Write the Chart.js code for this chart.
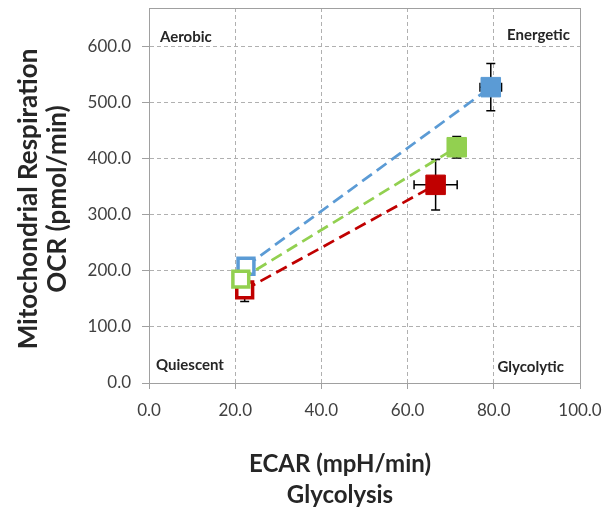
<!DOCTYPE html>
<html>
<head>
<meta charset="utf-8">
<script src="https://cdn.jsdelivr.net/npm/chart.js@4.4.1/dist/chart.umd.min.js"></script>
<style>
  html, body { margin: 0; padding: 0; background: #fff; }
</style>
</head>
<body>
<canvas id="chart" width="605" height="513"></canvas>
<script>
// three conditions: blue, green, red
const seriesNames = ['Series 1', 'Series 2', 'Series 3'];
const ecarBasal = [22.5, 21.3, 22.2];
const ocrBasal = [208, 185, 166];
const ecarStressed = [79.3, 71.4, 66.5];
const ocrStressed = [527, 420, 353];
const ecarErrBasal = [0, 0, 0];
const ocrErrBasal = [0, 0, 21];
const ecarErrStressed = [2.5, 1.5, 5.0];
const ocrErrStressed = [42, 19, 45];

const xTicks = [0, 20, 40, 60, 80, 100];
const yTicks = [0, 100, 200, 300, 400, 500, 600];
const quadrantLabels = ['Aerobic', 'Energetic', 'Quiescent', 'Glycolytic'];

const colors = ['#5B9BD5', '#92D050', '#C00000'];
const drawOrder = [1, 0, 2]; // green sits on top
const gridColor = '#B0B0B0';
const frameColor = '#A0A0A0';
const textColor = '#262626';
const tickColor = '#404040';
const FONT = 'Lato, "Open Sans", sans-serif';

const datasets = seriesNames.map((name, i) => ({
  label: name,
  data: [
    { x: ecarBasal[i], y: ocrBasal[i], xErr: ecarErrBasal[i], yErr: ocrErrBasal[i] },
    { x: ecarStressed[i], y: ocrStressed[i], xErr: ecarErrStressed[i], yErr: ocrErrStressed[i] }
  ],
  showLine: true,
  order: drawOrder[i],
  borderColor: colors[i],
  borderWidth: 2.75,
  borderDash: [12, 6],
  pointStyle: 'rect',
  pointRadius: [11.2, 13.8],
  pointBorderWidth: [3.5, 1],
  pointBorderColor: colors[i],
  pointBackgroundColor: ['#FFFFFF', colors[i]]
}));

const errorBars = {
  id: 'errorBars',
  beforeDatasetsDraw(chart) {
    const { ctx, scales: { x, y } } = chart;
    ctx.save();
    ctx.strokeStyle = '#000';
    ctx.lineWidth = 1.5;
    const cap = 4.5;
    chart.data.datasets.forEach(ds => {
      ds.data.forEach(p => {
        const px = x.getPixelForValue(p.x);
        const py = y.getPixelForValue(p.y);
        ctx.beginPath();
        if (p.yErr) {
          const y1 = y.getPixelForValue(p.y + p.yErr);
          const y2 = y.getPixelForValue(p.y - p.yErr);
          ctx.moveTo(px, y1); ctx.lineTo(px, y2);
          ctx.moveTo(px - cap, y1); ctx.lineTo(px + cap, y1);
          ctx.moveTo(px - cap, y2); ctx.lineTo(px + cap, y2);
        }
        if (p.xErr) {
          const x1 = x.getPixelForValue(p.x - p.xErr);
          const x2 = x.getPixelForValue(p.x + p.xErr);
          ctx.moveTo(x1, py); ctx.lineTo(x2, py);
          ctx.moveTo(x1, py - cap); ctx.lineTo(x1, py + cap);
          ctx.moveTo(x2, py - cap); ctx.lineTo(x2, py + cap);
        }
        ctx.stroke();
      });
    });
    ctx.restore();
  }
};

const frameAndText = {
  id: 'frameAndText',
  beforeDatasetsDraw(chart) {
    const { ctx, chartArea: a } = chart;
    ctx.save();
    ctx.strokeStyle = frameColor;
    ctx.lineWidth = 1;
    ctx.strokeRect(Math.round(a.left) + 0.5, Math.round(a.top) + 0.5,
      Math.round(a.right - a.left), Math.round(a.bottom - a.top));
    ctx.restore();
  },
  afterDraw(chart) {
    const { ctx, chartArea: a } = chart;
    ctx.save();
    ctx.fillStyle = textColor;

    // quadrant labels
    ctx.font = 'bold 15px ' + FONT;
    ctx.textBaseline = 'alphabetic';
    ctx.textAlign = 'left';
    ctx.fillText(quadrantLabels[0], a.left + 11, 41.5);
    ctx.fillText(quadrantLabels[2], a.left + 7, 369.5);
    ctx.textAlign = 'right';
    ctx.fillText(quadrantLabels[1], a.right - 10, 39.5);
    ctx.fillText(quadrantLabels[3], a.right - 16, 371.5);

    // axis titles
    ctx.font = 'bold 24px ' + FONT;
    ctx.textAlign = 'center';
    ctx.textBaseline = 'middle';
    ctx.fillText('ECAR (mpH/min)', 340, 464);
    ctx.fillText('Glycolysis', 340, 495);

    ctx.font = 'bold 26px ' + FONT;
    ctx.translate(0, 199);
    ctx.rotate(-Math.PI / 2);
    ctx.fillText('Mitochondrial Respiration', 0, 29);
    ctx.fillText('OCR (pmol/min)', 0, 58);
    ctx.restore();
  }
};

new Chart(document.getElementById('chart'), {
  type: 'scatter',
  data: { datasets },
  options: {
    responsive: false,
    animation: false,
    layout: { autoPadding: false, padding: { left: 0, top: 8, right: 25, bottom: 0 } },
    plugins: {
      legend: { display: false },
      tooltip: { enabled: false }
    },
    scales: {
      x: {
        type: 'linear',
        min: 0,
        max: 100,
        afterBuildTicks: s => { s.ticks = xTicks.map(v => ({ value: v })); },
        afterFit: s => { s.height = 130; s.paddingLeft = 0; s.paddingRight = 0; },
        ticks: {
          color: tickColor,
          font: { family: FONT, size: 17 },
          padding: 11,
          maxRotation: 0,
          callback: v => v.toFixed(1)
        },
        grid: { color: gridColor, tickColor: frameColor, tickLength: 6, lineWidth: 1 },
        border: { display: true, color: frameColor, dash: [4, 3] }
      },
      y: {
        type: 'linear',
        min: 0,
        max: 668,
        afterBuildTicks: s => { s.ticks = yTicks.map(v => ({ value: v })); },
        afterFit: s => { s.width = 149; s.paddingTop = 0; s.paddingBottom = 0; },
        ticks: {
          color: tickColor,
          font: { family: FONT, size: 17 },
          padding: 11,
          callback: v => v.toFixed(1)
        },
        grid: { color: gridColor, tickColor: frameColor, tickLength: 7, lineWidth: 1 },
        border: { display: true, color: frameColor, dash: [4, 3] }
      }
    }
  },
  plugins: [errorBars, frameAndText]
});
</script>
</body>
</html>
